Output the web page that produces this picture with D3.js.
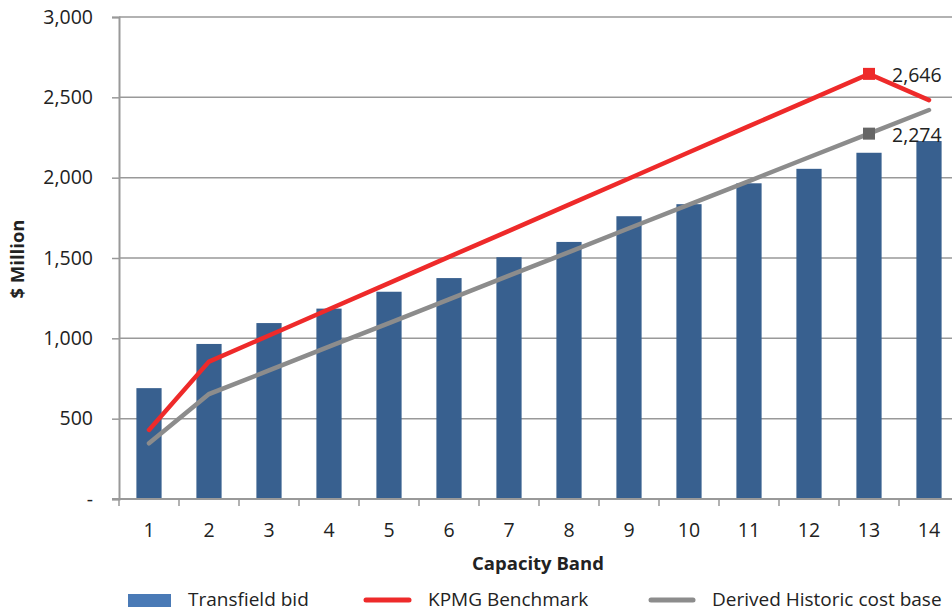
<!DOCTYPE html>
<html>
<head>
<meta charset="utf-8">
<script src="https://cdn.jsdelivr.net/npm/d3@7"></script>
<style>
  html, body { margin: 0; padding: 0; background: #fff; }
  svg { display: block; font-family: "Open Sans", "Noto Sans", sans-serif; }
</style>
</head>
<body>
<svg id="chart" width="952" height="612"></svg>
<script>
// Capacity bands on the x axis
const bands = ["1","2","3","4","5","6","7","8","9","10","11","12","13","14"];
// Transfield bid ($ million) per band
const transfieldBid = [690, 965, 1095, 1185, 1290, 1375, 1505, 1600, 1760, 1835, 1965, 2055, 2155, 2228];
// KPMG benchmark ($ million)
const kpmgBenchmark = [430, 855, 1018, 1181, 1344, 1507, 1669, 1832, 1995, 2158, 2321, 2483, 2646, 2483];
// Derived historic cost base ($ million)
const historicBase = [347, 653, 800, 948, 1095, 1243, 1390, 1537, 1685, 1832, 1979, 2127, 2274, 2421];
// Y axis ticks
const yTicks = [0, 500, 1000, 1500, 2000, 2500, 3000];
// Labelled points: band and series
const labelled = [
  { band: "13", value: 2646, series: "kpmg" },
  { band: "13", value: 2274, series: "hist" }
];

const svg = d3.select("#chart");
const plotLeft = 119, plotRight = 959, plotTop = 17, plotBottom = 499;

const x = d3.scaleBand().domain(bands).range([plotLeft, plotRight]).paddingInner(0.58).paddingOuter(0.29);
const xc = d3.scalePoint().domain(bands).range([plotLeft, plotRight]).padding(0.5);
const y = d3.scaleLinear().domain([0, 3000]).range([plotBottom, plotTop]);

const gridColor = "#999999";
const barColor = "#38608F";
const red = "#EE2A2A";
const grey = "#8C8C8C";
const textColor = "#222";

// Horizontal gridlines
svg.append("g").selectAll("line").data(yTicks.filter(d => d > 0)).join("line")
  .attr("x1", plotLeft).attr("x2", 952)
  .attr("y1", d => y(d)).attr("y2", d => y(d))
  .attr("stroke", gridColor).attr("stroke-width", 1.5);

// Y axis
const yAxis = d3.axisLeft(y).tickValues(yTicks).tickSize(7).tickPadding(19)
  .tickFormat(d => d === 0 ? "-" : d3.format(",")(d));
const gy = svg.append("g").attr("transform", `translate(${plotLeft},0)`).call(yAxis);
gy.select(".domain").attr("stroke", gridColor).attr("stroke-width", 2);
gy.selectAll(".tick line").attr("stroke", gridColor).attr("stroke-width", 1.5);
gy.selectAll(".tick text").attr("font-size", 19.5).attr("fill", textColor).attr("font-family", "Open Sans");

// Bars
svg.append("g").selectAll("rect").data(transfieldBid).join("rect")
  .attr("x", (d, i) => x(bands[i]))
  .attr("width", x.bandwidth())
  .attr("y", d => y(d))
  .attr("height", d => y(0) - y(d))
  .attr("fill", barColor);

// X axis baseline and band ticks
const step = (plotRight - plotLeft) / bands.length;
svg.append("line").attr("x1", plotLeft - 7).attr("x2", 952)
  .attr("y1", plotBottom).attr("y2", plotBottom)
  .attr("stroke", gridColor).attr("stroke-width", 2);
svg.append("g").selectAll("line").data(d3.range(bands.length + 1)).join("line")
  .attr("x1", i => plotLeft + i * step).attr("x2", i => plotLeft + i * step)
  .attr("y1", plotBottom).attr("y2", plotBottom + 7)
  .attr("stroke", gridColor).attr("stroke-width", 1.5);
svg.append("g").selectAll("text").data(bands).join("text")
  .attr("x", d => xc(d)).attr("y", 537)
  .attr("text-anchor", "middle").attr("font-size", 19.5).attr("fill", textColor)
  .text(d => d);

// Lines
const line = d3.line().x((d, i) => xc(bands[i])).y(d => y(d));
svg.append("path").datum(historicBase).attr("d", line)
  .attr("fill", "none").attr("stroke", grey).attr("stroke-width", 4.5).attr("stroke-linecap", "round");
svg.append("path").datum(kpmgBenchmark).attr("d", line)
  .attr("fill", "none").attr("stroke", red).attr("stroke-width", 4.5).attr("stroke-linecap", "round");

// Markers and value labels
labelled.forEach(p => {
  const cx = xc(p.band), cy = y(p.value);
  svg.append("rect").attr("x", cx - 6).attr("y", cy - 6).attr("width", 12).attr("height", 12)
    .attr("fill", p.series === "kpmg" ? red : "#666666");
  svg.append("text").attr("x", cx + 23).attr("y", cy + 8)
    .attr("font-size", 19.5).attr("fill", textColor).text(d3.format(",")(p.value));
});

// Axis titles
svg.append("text").attr("transform", "translate(24,259) rotate(-90)")
  .attr("text-anchor", "middle").attr("font-weight", "bold").attr("font-size", 18.5).attr("fill", textColor)
  .text("$ Million");
svg.append("text").attr("x", 538).attr("y", 570)
  .attr("text-anchor", "middle").attr("font-weight", "bold").attr("font-size", 18.5).attr("fill", textColor)
  .text("Capacity Band");

// Legend
const lg = svg.append("g");
lg.append("rect").attr("x", 128).attr("y", 594).attr("width", 43).attr("height", 13).attr("fill", "#4A7AB6");
lg.append("text").attr("x", 188).attr("y", 606).attr("font-size", 19).attr("fill", textColor).text("Transfield bid");
lg.append("line").attr("x1", 366).attr("x2", 409).attr("y1", 600).attr("y2", 600)
  .attr("stroke", red).attr("stroke-width", 5).attr("stroke-linecap", "round");
lg.append("text").attr("x", 428).attr("y", 606).attr("font-size", 19).attr("fill", textColor).text("KPMG Benchmark");
lg.append("line").attr("x1", 651).attr("x2", 693).attr("y1", 600).attr("y2", 600)
  .attr("stroke", grey).attr("stroke-width", 5).attr("stroke-linecap", "round");
lg.append("text").attr("x", 712).attr("y", 606).attr("font-size", 19).attr("fill", textColor).text("Derived Historic cost base");
</script>
</body>
</html>
